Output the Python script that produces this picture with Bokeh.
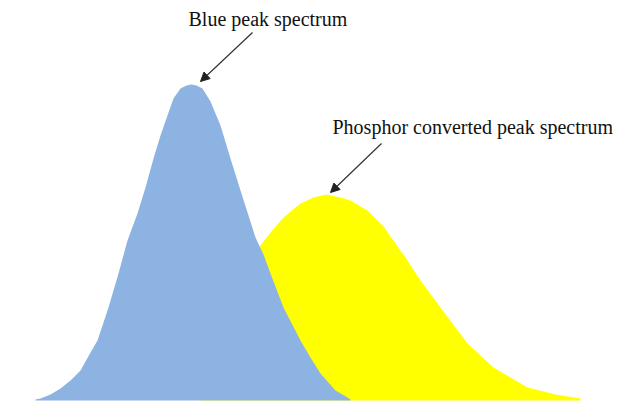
from bokeh.plotting import figure
from bokeh.models import Range1d, Arrow, NormalHead, Label
from bokeh.embed import file_html
from bokeh.resources import INLINE

# Blue peak spectrum (x position, relative intensity)
blue_x = [35, 40, 50, 60, 70, 80, 90, 97, 108, 118, 127, 137, 145, 153, 160,
          167, 173, 180, 186, 191, 196, 202, 210, 220, 230, 240, 248, 255,
          263, 270, 283, 300, 310, 320, 335, 347, 350]
blue_y = [1, 2, 6, 12, 20, 30, 48, 60, 93, 127, 160, 187, 213, 242, 265,
          285, 302, 312, 315, 316, 315, 312, 299, 275, 242, 210, 185, 163,
          146, 127, 93, 60, 43, 27, 10, 3, 1]

# Phosphor converted peak spectrum
yellow_x = [200, 215, 230, 245, 260, 270, 283, 300, 313, 326, 340, 350, 367,
            383, 395, 405, 420, 440, 467, 493, 527, 555, 580]
yellow_y = [1, 25, 70, 120, 155, 168, 183, 197, 203, 206, 203, 200, 190,
            174, 157, 143, 120, 93, 57, 33, 13, 6, 2]

blue_label = "Blue peak spectrum"
yellow_label = "Phosphor converted peak spectrum"

BLUE = "#8DB3E2"
YELLOW = "#FFFF00"
FONT = "Liberation Serif"

p = figure(width=629, height=405, output_backend="svg", toolbar_location=None,
           x_range=Range1d(0, 629), y_range=Range1d(-5, 400), min_border=0,
           x_axis_type=None, y_axis_type=None)
p.grid.visible = False
p.outline_line_color = None
p.background_fill_color = "white"
p.border_fill_color = "white"

p.varea(x=yellow_x, y1=0, y2=yellow_y, fill_color=YELLOW)
p.varea(x=blue_x, y1=0, y2=blue_y, fill_color=BLUE)

def peak(xs, ys):
    i = max(range(len(ys)), key=lambda k: ys[k])
    return xs[i], ys[i]

bx, by = peak(blue_x, blue_y)
yx, yy = peak(yellow_x, yellow_y)

p.add_layout(Arrow(end=NormalHead(size=9, fill_color="#222222", line_color="#222222"),
                   x_start=bx + 61, y_start=by + 52, x_end=bx + 9, y_end=by + 3,
                   line_color="#333333", line_width=1.2))
p.add_layout(Arrow(end=NormalHead(size=9, fill_color="#222222", line_color="#222222"),
                   x_start=yx + 55, y_start=yy + 51, x_end=yx + 4, y_end=yy + 2,
                   line_color="#333333", line_width=1.2))

p.add_layout(Label(x=bx - 3, y=by + 66, text=blue_label, text_font=FONT,
                   text_font_size="20px", text_color="#111111",
                   text_baseline="alphabetic", text_align="left"))
p.add_layout(Label(x=yx + 6, y=yy + 68, text=yellow_label, text_font=FONT,
                   text_font_size="20px", text_color="#111111",
                   text_baseline="alphabetic", text_align="left"))

open("out.html", "w").write(file_html(p, INLINE))
